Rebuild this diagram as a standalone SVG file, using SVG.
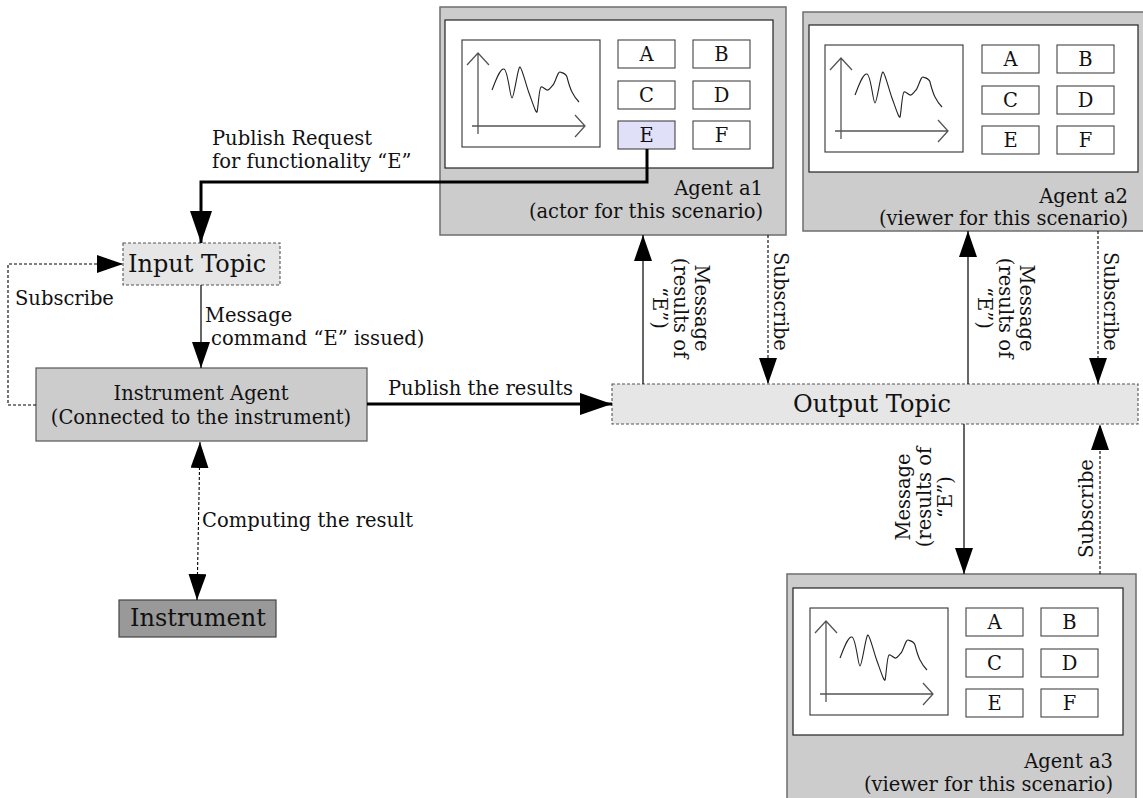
<svg xmlns="http://www.w3.org/2000/svg" width="1143" height="798" viewBox="0 0 1143 798">
  <style>
    text { font-family: "DejaVu Serif", "Liberation Serif", serif; fill: #111; }
    .lbl { font-size: 19.5px; }
    .big { font-size: 24px; }
    .agent { fill: #cccccc; stroke: #6e6e6e; stroke-width: 1.5; }
    .panel { fill: #ffffff; stroke: #222; stroke-width: 1.2; }
    .chart { fill: #ffffff; stroke: #333; stroke-width: 1.1; }
    .axis { fill: none; stroke: #555; stroke-width: 1.3; }
    .wave { fill: none; stroke: #222; stroke-width: 1.1; }
    .btn { fill: #ffffff; stroke: #444; stroke-width: 1.1; }
    .btn-on { fill: #e0e0f8; stroke: #444; stroke-width: 1.1; }
    .btnt { font-size: 19.5px; text-anchor: middle; }
    .topic { fill: #e6e6e6; stroke: #555; stroke-width: 1.1; stroke-dasharray: 3 2; }
    .solid { fill: none; stroke: #000; stroke-width: 1.2; }
    .thick { fill: none; stroke: #000; stroke-width: 3; }
    .dot { fill: none; stroke: #000; stroke-width: 1.1; stroke-dasharray: 3 2; }
  </style>
  <defs>
    <marker id="ah" markerUnits="userSpaceOnUse" markerWidth="26" markerHeight="18" refX="26" refY="9" orient="auto-start-reverse">
      <path d="M0,0 L26,9 L0,18 z" fill="#000"/>
    </marker>
    <marker id="ahb" markerUnits="userSpaceOnUse" markerWidth="32" markerHeight="22" refX="32" refY="11" orient="auto-start-reverse">
      <path d="M0,0 L32,11 L0,22 z" fill="#000"/>
    </marker>
    <!-- plot widget shown on every agent screen -->
    <g id="plot">
      <rect class="chart" x="0" y="0" width="138" height="107"/>
      <path class="axis" d="M16,94 V13 M5,25 L16,13 L27,25 M10,86 H123 M113,75 L123,86 L113,97"/>
      <path class="wave" d="M30,50 C34,40 38,28 42,29 S48,58 50,58 S56,26 58,27 S64,45 67,53 S74,74 75,72 S77,48 79,47 S84,51 86,50 S89,47 91,45 S96,31 98,32 S104,33 105,37 S108,48 110,52 S115,60 117,62"/>
    </g>
  </defs>

  <!-- Agent a1 -->
  <g id="agent-a1">
    <rect class="agent" x="440" y="7" width="346" height="228"/>
    <rect class="panel" x="445" y="20" width="328" height="148"/>
    <use href="#plot" x="462" y="40"/>
    <rect class="btn" x="618" y="40" width="57" height="28"/>
    <rect class="btn" x="693" y="40" width="57" height="28"/>
    <rect class="btn" x="618" y="81" width="57" height="28"/>
    <rect class="btn" x="693" y="81" width="57" height="28"/>
    <rect class="btn-on" x="618" y="121" width="57" height="28"/>
    <rect class="btn" x="693" y="121" width="57" height="28"/>
    <text class="btnt" x="646.5" y="61">A</text>
    <text class="btnt" x="721.5" y="61">B</text>
    <text class="btnt" x="646.5" y="102">C</text>
    <text class="btnt" x="721.5" y="102">D</text>
    <text class="btnt" x="646.5" y="142">E</text>
    <text class="btnt" x="721.5" y="142">F</text>
    <text class="lbl" x="763" y="195" text-anchor="end">Agent a1</text>
    <text class="lbl" x="763" y="218" text-anchor="end">(actor for this scenario)</text>
  </g>

  <!-- Agent a2 -->
  <g id="agent-a2">
    <rect class="agent" x="803" y="12" width="350" height="219"/>
    <rect class="panel" x="809" y="25" width="329" height="147"/>
    <use href="#plot" x="825" y="45"/>
    <rect class="btn" x="982" y="45" width="57" height="28"/>
    <rect class="btn" x="1057" y="45" width="57" height="28"/>
    <rect class="btn" x="982" y="86" width="57" height="28"/>
    <rect class="btn" x="1057" y="86" width="57" height="28"/>
    <rect class="btn" x="982" y="126" width="57" height="28"/>
    <rect class="btn" x="1057" y="126" width="57" height="28"/>
    <text class="btnt" x="1010.5" y="66">A</text>
    <text class="btnt" x="1085.5" y="66">B</text>
    <text class="btnt" x="1010.5" y="107">C</text>
    <text class="btnt" x="1085.5" y="107">D</text>
    <text class="btnt" x="1010.5" y="147">E</text>
    <text class="btnt" x="1085.5" y="147">F</text>
    <text class="lbl" x="1128" y="203" text-anchor="end">Agent a2</text>
    <text class="lbl" x="1128" y="225" text-anchor="end">(viewer for this scenario)</text>
  </g>

  <!-- Agent a3 -->
  <g id="agent-a3">
    <rect class="agent" x="787" y="574" width="349" height="240"/>
    <rect class="panel" x="793" y="588" width="330" height="147"/>
    <use href="#plot" x="810" y="608"/>
    <rect class="btn" x="966" y="608" width="57" height="28"/>
    <rect class="btn" x="1041" y="608" width="57" height="28"/>
    <rect class="btn" x="966" y="649" width="57" height="28"/>
    <rect class="btn" x="1041" y="649" width="57" height="28"/>
    <rect class="btn" x="966" y="689" width="57" height="28"/>
    <rect class="btn" x="1041" y="689" width="57" height="28"/>
    <text class="btnt" x="994.5" y="629">A</text>
    <text class="btnt" x="1069.5" y="629">B</text>
    <text class="btnt" x="994.5" y="670">C</text>
    <text class="btnt" x="1069.5" y="670">D</text>
    <text class="btnt" x="994.5" y="710">E</text>
    <text class="btnt" x="1069.5" y="710">F</text>
    <text class="lbl" x="1113" y="768" text-anchor="end">Agent a3</text>
    <text class="lbl" x="1113" y="791" text-anchor="end">(viewer for this scenario)</text>
  </g>

  <!-- Input Topic -->
  <g id="input-topic">
    <rect class="topic" x="123" y="243" width="157" height="42"/>
    <text class="big" x="128" y="272">Input Topic</text>
  </g>

  <!-- Output Topic -->
  <g id="output-topic">
    <rect class="topic" x="612" y="384" width="526" height="40"/>
    <text class="big" x="793" y="412">Output Topic</text>
  </g>

  <!-- Instrument Agent -->
  <g id="instrument-agent">
    <rect x="36" y="368" width="331" height="73" fill="#cccccc" stroke="#555" stroke-width="1.2"/>
    <text class="lbl" x="201" y="400" text-anchor="middle">Instrument Agent</text>
    <text class="lbl" x="201" y="424" text-anchor="middle">(Connected to the instrument)</text>
  </g>

  <!-- Instrument -->
  <g id="instrument">
    <rect x="119" y="600" width="157" height="37" fill="#999999" stroke="#444" stroke-width="1.2"/>
    <text class="big" x="130" y="626">Instrument</text>
  </g>

  <!-- Connectors -->
  <g id="connectors">
    <path class="thick" d="M647,149 V182 H201 V243" marker-end="url(#ahb)"/>
    <path class="dot" d="M36,405 H8 V264 H123" marker-end="url(#ah)"/>
    <path class="solid" d="M201,285 V368" marker-end="url(#ah)"/>
    <path class="thick" d="M367,404 H612" marker-end="url(#ahb)"/>
    <path class="dot" d="M200,442 L197,600" stroke-width="1.6" marker-start="url(#ah)" marker-end="url(#ah)"/>
    <path class="solid" d="M643,384 V235" marker-end="url(#ah)"/>
    <path class="dot" d="M768,235 V384" marker-end="url(#ah)"/>
    <path class="solid" d="M968,384 V231" marker-end="url(#ah)"/>
    <path class="dot" d="M1098,231 V384" marker-end="url(#ah)"/>
    <path class="solid" d="M964,424 V574" marker-end="url(#ah)"/>
    <path class="dot" d="M1100,574 V424" marker-end="url(#ah)"/>

    <text class="lbl" x="212" y="145">Publish Request</text>
    <text class="lbl" x="212" y="168">for functionality “E”</text>
    <text class="lbl" x="15" y="305">Subscribe</text>
    <text class="lbl" x="205" y="322">Message</text>
    <text class="lbl" x="211" y="345">command “E” issued)</text>
    <text class="lbl" x="388" y="395">Publish the results</text>
    <text class="lbl" x="202" y="527">Computing the result</text>

    <text class="lbl" text-anchor="middle" transform="translate(695,308) rotate(90)"><tspan x="0" y="0">Message</tspan><tspan x="0" y="21">(results of</tspan><tspan x="0" y="42">“E”)</tspan></text>
    <text class="lbl" transform="translate(774,252) rotate(90)">Subscribe</text>
    <text class="lbl" text-anchor="middle" transform="translate(1020,308) rotate(90)"><tspan x="0" y="0">Message</tspan><tspan x="0" y="21">(results of</tspan><tspan x="0" y="42">“E”)</tspan></text>
    <text class="lbl" transform="translate(1104,252) rotate(90)">Subscribe</text>
    <text class="lbl" text-anchor="middle" transform="translate(910,497) rotate(-90)"><tspan x="0" y="0">Message</tspan><tspan x="0" y="21">(results of</tspan><tspan x="0" y="42">“E”)</tspan></text>
    <text class="lbl" transform="translate(1093,558) rotate(-90)">Subscribe</text>
  </g>
</svg>
